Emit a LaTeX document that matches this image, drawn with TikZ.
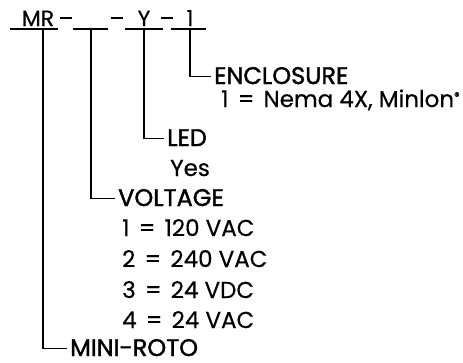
\documentclass[tikz,border=0pt]{standalone}
\usepackage{fontspec}
\setmainfont{Poppins}[FakeBold=0.4]
\newfontfamily\hdrfont{Poppins}[FakeBold=1.6]
\newcommand{\eqsp}{\hspace{0.4em}=\hspace{0.4em}}
\begin{document}
\begin{tikzpicture}[x=1pt,y=-1pt,
  ln/.style={line width=1.7pt},
  hdr/.style={anchor=base west,inner sep=0pt,text depth=0pt,font=\hdrfont\fontsize{24}{28}\selectfont},
  val/.style={anchor=base west,inner sep=0pt,text depth=0pt,font=\fontsize{23}{28}\selectfont},
  top/.style={anchor=base,inner sep=0pt,text depth=0pt,font=\fontsize{22}{26}\selectfont}]
\useasboundingbox (0,0) rectangle (463,362);
% top code row
\node[top] (mr) at (38,26) {MR};
\node[top] (d1) at (66,26) {--};
\node[top] (d2) at (117,26) {--};
\node[top] (y) at (144,26) {Y};
\node[top] (d3) at (167,26) {--};
\node[top] (one) at (190,26) {1};
\coordinate (s1a) at (10,29); \coordinate (s1b) at (58,29);
\coordinate (s2a) at (73,29); \coordinate (s2b) at (108,29);
\coordinate (s3a) at (125,29); \coordinate (s3b) at (163,29);
\coordinate (s4a) at (171,29); \coordinate (s4b) at (206,29);
\draw[ln] (s1a) -- (s1b);
\draw[ln] (s2a) -- (s2b);
\draw[ln] (s3a) -- (s3b);
\draw[ln] (s4a) -- (s4b);
% headers and values
\node[hdr] (encl) at (214,84) {ENCLOSURE};
\node[val] (enclv) at (221,107) {1\eqsp Nema 4X, Minlon\raisebox{7pt}{\fontsize{11}{11}\selectfont ®}};
\node[hdr] (led) at (167,146) {LED};
\node[val] (ledv) at (170,176) {Yes};
\node[hdr] (volt) at (118,206) {VOLTAGE};
\node[val] (v1) at (122,236) {1\eqsp 120 VAC};
\node[val] (v2) at (122,267) {2\eqsp 240 VAC};
\node[val] (v3) at (122,298) {3\eqsp 24 VDC};
\node[val] (v4) at (122,328) {4\eqsp 24 VAC};
\node[hdr] (mini) at (70,356) {MINI-ROTO};
% connectors
\coordinate (t4) at (190,29); \coordinate (t3) at (144,29);
\coordinate (t2) at (91,29); \coordinate (t1) at (43,29);
\draw[ln] (t4) |- ([xshift=-3pt,yshift=-1pt]encl.west);
\draw[ln] (t3) |- ([xshift=-3pt,yshift=-1pt]led.west);
\draw[ln] (t2) |- ([xshift=-3pt,yshift=-1pt]volt.west);
\draw[ln] (t1) |- ([xshift=-3pt,yshift=-1pt]mini.west);
\end{tikzpicture}
\end{document}
